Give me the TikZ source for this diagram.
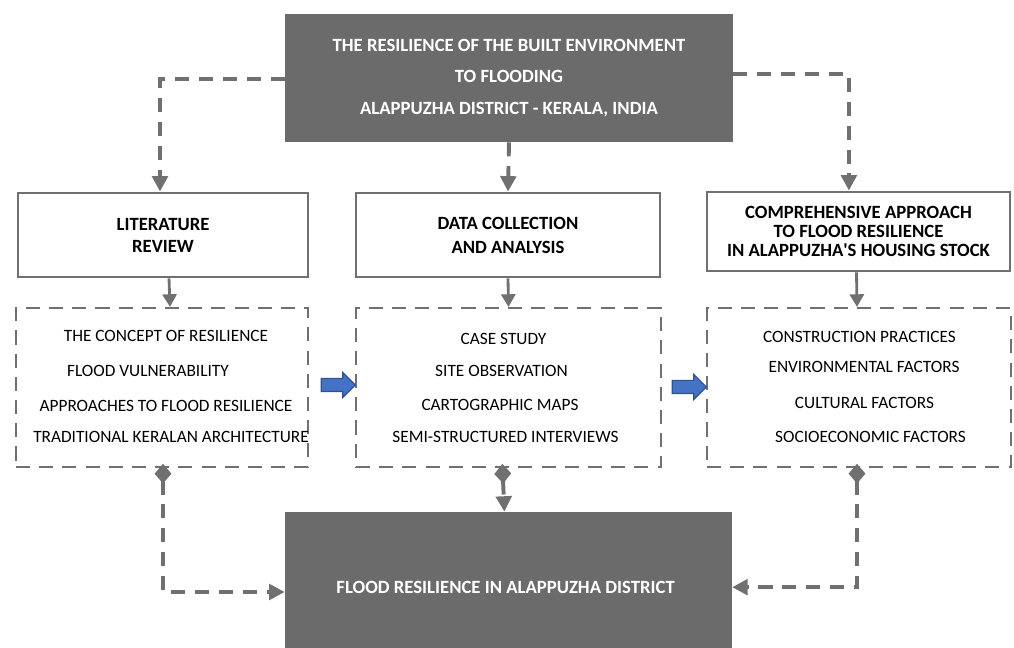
\documentclass[tikz,border=0pt]{standalone}
\usepackage{fontspec}
\setmainfont{Carlito}
\usepackage{xcolor}
\usepackage{tikz}
\usetikzlibrary{arrows.meta,positioning,shapes.arrows,calc}
\definecolor{boxgray}{HTML}{6B6B6B}
\definecolor{linegray}{HTML}{707070}
\definecolor{arrowblue}{HTML}{4472C4}
\definecolor{arrowedge}{HTML}{2F528F}
\tikzset{
  darkbox/.style={rectangle, fill=boxgray, text=white, align=center, font=\fontsize{13.3}{16}\selectfont\bfseries, inner sep=0pt},
  titlebox/.style={draw=linegray, line width=2pt, rectangle, fill=white, align=center, font=\fontsize{13.3}{15.6}\selectfont\bfseries, inner sep=0pt, minimum height=2.1cm},
  setbox/.style={draw=linegray, line width=1.5pt, dash pattern=on 10pt off 6.5pt, rectangle, inner sep=0pt, minimum height=3.975cm},
  item/.style={font=\fontsize{12.3}{14}\selectfont, inner sep=0pt, anchor=center},
  dconn/.style={draw=linegray, line width=2.8pt, dash pattern=on 10pt off 7pt, -{Triangle[length=11pt,width=11pt]}},
  dfork/.style={draw=linegray, line width=2.8pt, dash pattern=on 10pt off 7pt, {Diamond[length=14pt,width=12pt,sep=-3pt]}-{Triangle[length=11pt,width=11pt]}},
  sarr/.style={draw=linegray, line width=2pt, -{Triangle[length=9pt,width=10pt]}},
  blockarr/.style={single arrow, draw=arrowedge, fill=arrowblue, line width=0.8pt, minimum height=0.85cm, single arrow head extend=0.15cm, inner xsep=0pt, inner ysep=0.15cm}
}
\begin{document}
\begin{tikzpicture}
\useasboundingbox (0,0) rectangle (25.35,16.2);

\node[darkbox, minimum width=11.2cm, minimum height=3.2cm] (top) at (12.725,14.25)
  {THE RESILIENCE OF THE BUILT ENVIRONMENT\\[6.4pt] TO FLOODING\\[6.4pt] ALAPPUZHA DISTRICT - KERALA, INDIA};
\node[darkbox, minimum width=11.175cm, minimum height=3.4cm] (bottom) at (12.71,1.7) {};
\node[font=\fontsize{13.3}{16}\selectfont\bfseries, text=white, inner sep=0pt] (bottomtxt) at (12.64,1.52) {FLOOD RESILIENCE IN ALAPPUZHA DISTRICT};

\node[titlebox, minimum width=7.25cm] (lit) at (4.075,10.325) {LITERATURE\\ REVIEW};
\node[titlebox, minimum width=7.6cm] (data) at (12.7,10.325) {DATA COLLECTION\\[1.4pt] AND ANALYSIS};
\node[titlebox, minimum width=7.575cm, minimum height=1.975cm, font=\fontsize{13.3}{13.5}\selectfont\bfseries] (comp) at (21.4625,10.4125)
  {COMPREHENSIVE APPROACH\\ TO FLOOD RESILIENCE\\ IN ALAPPUZHA\textquotesingle S HOUSING STOCK};

\node[setbox, minimum width=7.3cm] (litset) at (4.05,6.5125) {};
\node[setbox, minimum width=7.625cm] (dataset) at (12.7125,6.5125) {};
\node[setbox, minimum width=7.6cm] (compset) at (21.475,6.5125) {};

\foreach \n/\x/\y/\t in {1/4.15/7.8/THE CONCEPT OF RESILIENCE, 2/3.7/6.925/FLOOD VULNERABILITY,
  3/4.15/6.05/APPROACHES TO FLOOD RESILIENCE, 4/4.275/5.275/TRADITIONAL KERALAN ARCHITECTURE}
  \node[item] (lititem\n) at (\x,\y) {\t};
\foreach \n/\x/\y/\t in {1/12.5875/7.725/CASE STUDY, 2/12.5375/6.925/SITE OBSERVATION,
  3/12.5/6.075/CARTOGRAPHIC MAPS, 4/12.6375/5.275/SEMI-STRUCTURED INTERVIEWS}
  \node[item] (dataitem\n) at (\x,\y) {\t};
\foreach \n/\x/\y/\t in {1/21.4875/7.775/CONSTRUCTION PRACTICES, 2/21.6/7.025/ENVIRONMENTAL FACTORS,
  3/21.6125/6.125/CULTURAL FACTORS, 4/21.7625/5.275/SOCIOECONOMIC FACTORS}
  \node[item] (compitem\n) at (\x,\y) {\t};

\node[blockarr] (blue1) at (8.375,6.575) {};
\node[blockarr] (blue2) at (17.15,6.525) {};

\draw[dconn] ([yshift=-0.03cm]top.west) -| ([xshift=-0.075cm]lit.north);
\draw[dconn] ([yshift=0.1cm]top.east) -| ([xshift=-0.24cm]comp.north);
\draw[dconn] (top.south) -- (data.north);

\draw[sarr] ([xshift=0.15cm]lit.south) -- ([xshift=0.2cm]litset.north);
\draw[sarr] (data.south) -- (dataset.north);
\draw[sarr] ([xshift=-0.05cm]comp.south) -- ([xshift=-0.05cm]compset.north);

\draw[dfork] ([xshift=0.025cm]litset.south) |- ([yshift=-0.3cm]bottom.west);
\draw[dfork] ([xshift=-0.15cm]dataset.south) -- ([xshift=-0.1cm]bottom.north);
\draw[dfork] ([xshift=-0.05cm]compset.south) |- ([yshift=-0.18cm]bottom.east);
\end{tikzpicture}
\end{document}
